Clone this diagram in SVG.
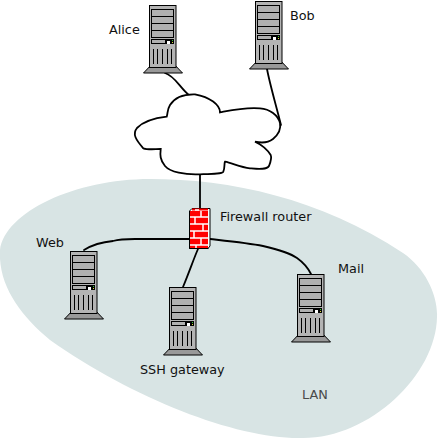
<svg xmlns="http://www.w3.org/2000/svg" width="438" height="440" viewBox="0 0 438 440">
<style>
text{font-family:"DejaVu Sans",sans-serif;font-size:12.800px;fill:#111}
.c{fill:none;stroke:#000;stroke-width:1.800;stroke-linecap:round;stroke-linejoin:round}
.bay{fill:#b0b0b0;stroke:#000;stroke-width:1}
.mortar{fill:none;stroke:#fff;stroke-width:1.500}
</style>
<defs>
<g id="server">
<path d="M5 57 L-5.500 68 L33.500 68 L23 57 Z" fill="#999" stroke="#000" stroke-width="1"/>
<rect x="0.500" y="0.500" width="26.500" height="62" fill="#b4b4b4" stroke="#000"/>
<rect class="bay" x="2.500" y="4.500" width="22" height="7"/>
<rect class="bay" x="2.500" y="11.500" width="22" height="7"/>
<rect class="bay" x="2.500" y="18.500" width="22" height="7"/>
<rect class="bay" x="2.500" y="25.500" width="22" height="7"/>
<rect class="bay" x="2.500" y="34.500" width="14" height="4"/>
<rect x="17" y="34" width="8" height="5" fill="#000"/>
<rect x="18" y="36" width="3" height="3" fill="#fff"/>
<rect x="23" y="35" width="1" height="1" fill="#3c3"/>
<rect x="23" y="37" width="1" height="1" fill="#dd3"/>
<path d="M4.500 44V59M8.500 44V59M13.500 44V59M18.500 44V59M22.500 44V59" stroke="#000" stroke-width="1" fill="none"/>
</g>
</defs>
<rect width="438" height="440" fill="#fff"/>
<path id="lan" d="M0 250C5 212 75 179 150 179C230 179 320 198 403 253C425 268 438 295 437 317C436 375 370 438 303 438C240 440 135 400 50 340C20 315 -2 285 0 250Z" fill="#d8e4e4"/>
<g id="connectors">
<path class="c" d="M165 73C175 76 180 88 190 96"/>
<path class="c" d="M267 69C270 85 276 105 281 125"/>
<path class="c" d="M200 174V208"/>
<path class="c" d="M84 250C92 245 102 242 113 241C120 239 128 239 135 239H189"/>
<path class="c" d="M210 239C228 241 248 243 263 246C280 250 290 253 297 258C304 263 308 268 311 274"/>
<path class="c" d="M198 249C194 258 190 270 183 287"/>
</g>
<g id="cloud">
<path d="M220 112.300C220 105 210 97 195 94.300C185 94 175 97 170 105C167 110 168 113 166.700 116.700C155 118 143 122 137 128C132 134 136 140 143.300 148.300C148 150 155 149 160.700 149C160 155 160 160 165 166C170 172 185 175 200 174.300C212 174 222 174 223.300 171.700C225 168 224 164 225 161.700C232 163 240 167 250 168.300C258 169 267 170 269 166C271 161 272 158 270.700 155C267 149 260 144 255 141.700C261 143 268 143 273 139C279 134 281 128 280 123C278 115 270 109 260 108.300C245 107 232 110 220 112.300Z" fill="#fff" stroke="#000" stroke-width="1.800"/>
</g>
<g id="alice"><use href="#server" x="149" y="5"/><text x="109" y="34">Alice</text></g>
<g id="bob"><use href="#server" x="255" y="1"/><text x="290" y="20">Bob</text></g>
<g id="web"><use href="#server" x="70" y="251"/><text x="36" y="247">Web</text></g>
<g id="ssh"><use href="#server" x="169" y="287"/><text x="140" y="374">SSH gateway</text></g>
<g id="mail"><use href="#server" x="297" y="274"/><text x="338" y="273">Mail</text></g>
<g id="firewall">
<path d="M189.500 211L192 208.500H210V246L208 248.500H189.500Z" fill="#fff" stroke="#000"/>
<rect x="190" y="211" width="18" height="37" fill="#f00"/>
<path d="M192 209.500H208" stroke="#f00" stroke-width="2"/>
<path d="M189.500 211V248.500H208.500" fill="none" stroke="#000"/>
<path class="mortar" d="M195 210H199M190 217H208M190 224H208M190 231H208M190 238H208M190 245H208M201 211V217M195 217V224M203 224V231M194 231V238M201 238V245M196 245V248"/>
<text x="220" y="221">Firewall router</text>
</g>
<g id="lan-label"><text x="302" y="399" style="fill:#4a4a4a">LAN</text></g>
</svg>
